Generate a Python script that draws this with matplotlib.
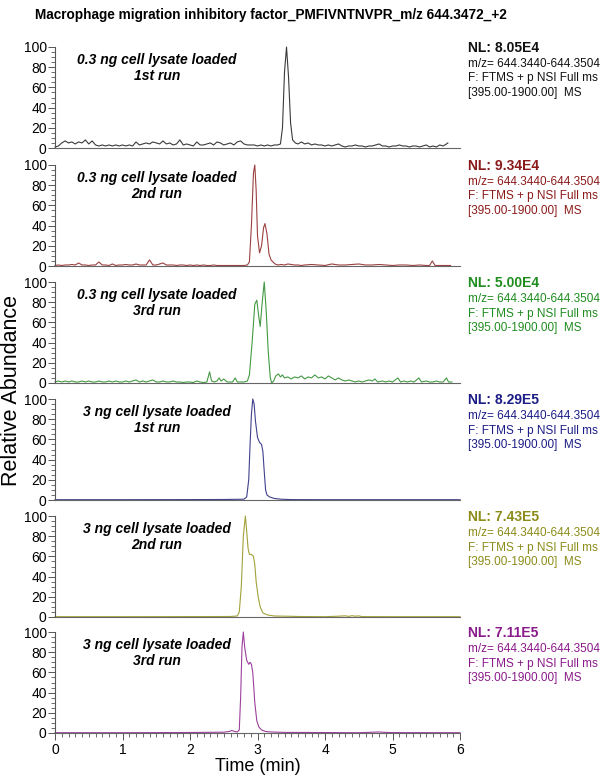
import matplotlib
matplotlib.use("Agg")
import matplotlib.pyplot as plt
from matplotlib.ticker import MultipleLocator

plt.rcParams['font.family'] = ['Liberation Sans', 'DejaVu Sans']

title = "Macrophage migration inhibitory factor_PMFIVNTNVPR_m/z 644.3472_+2"
run_labels = [
    "0.3 ng cell lysate loaded\n1st run",
    "0.3 ng cell lysate loaded\n2nd run",
    "0.3 ng cell lysate loaded\n3rd run",
    "3 ng cell lysate loaded\n1st run",
    "3 ng cell lysate loaded\n2nd run",
    "3 ng cell lysate loaded\n3rd run",
]
nl_values = ["8.05E4", "9.34E4", "5.00E4", "8.29E5", "7.43E5", "7.11E5"]
scan_info = ["m/z= 644.3440-644.3504", "F: FTMS + p NSI Full ms", "[395.00-1900.00]  MS"]

# trace 1: 0.3 ng, 1st run
t1 = [0.00, 0.05, 0.10, 0.15, 0.20, 0.25, 0.30, 0.35, 0.40, 0.45, 0.50, 0.55, 0.60, 0.65, 0.70,
      0.75, 0.80, 0.85, 0.90, 0.95, 1.00, 1.05, 1.10, 1.15, 1.20, 1.25, 1.30, 1.35, 1.40, 1.45,
      1.50, 1.55, 1.60, 1.65, 1.70, 1.75, 1.80, 1.85, 1.90, 1.95, 2.00, 2.05, 2.10, 2.15, 2.20,
      2.25, 2.30, 2.35, 2.40, 2.45, 2.50, 2.55, 2.60, 2.65, 2.70, 2.75, 2.80, 2.85, 2.90, 2.95,
      3.00, 3.05, 3.10, 3.15, 3.20, 3.25, 3.30, 3.34, 3.37, 3.40, 3.43, 3.46, 3.49, 3.52, 3.56,
      3.60, 3.65, 3.70, 3.75, 3.80, 3.85, 3.90, 3.95, 4.00, 4.05, 4.10, 4.15, 4.20, 4.25, 4.30,
      4.35, 4.40, 4.45, 4.50, 4.55, 4.60, 4.65, 4.70, 4.75, 4.80, 4.85, 4.90, 4.95, 5.00, 5.05,
      5.10, 5.15, 5.20, 5.25, 5.30, 5.35, 5.40, 5.45, 5.50, 5.55, 5.60, 5.65, 5.70, 5.75, 5.80, 5.82]
y1 = [1, 2, 5, 7, 5, 6, 4, 6, 5, 8, 4, 7, 3, 2, 3,
      2, 3, 2, 3, 2, 3, 2, 3, 2, 6, 3, 4, 5, 4, 6,
      5, 4, 7, 4, 5, 3, 4, 8, 3, 4, 3, 2, 6, 3, 3,
      4, 5, 3, 6, 5, 3, 4, 5, 3, 6, 7, 4, 3, 3, 3,
      2, 3, 2, 3, 2, 3, 3, 4, 20, 75, 100, 70, 25, 8, 5,
      4, 6, 4, 5, 3, 4, 3, 3, 2, 3, 2, 3, 4, 2, 1,
      2, 2, 3, 2, 2, 1, 2, 2, 3, 4, 2, 2, 1, 2, 2,
      3, 2, 2, 1, 2, 2, 1, 2, 3, 1, 2, 1, 3, 2, 4, 5]

# trace 2: 0.3 ng, 2nd run
t2 = [0.00, 0.05, 0.10, 0.15, 0.20, 0.25, 0.30, 0.35, 0.40, 0.45, 0.50, 0.55, 0.60, 0.65, 0.70,
      0.75, 0.80, 0.85, 0.90, 0.95, 1.00, 1.05, 1.10, 1.15, 1.20, 1.25, 1.30, 1.35, 1.40, 1.45,
      1.50, 1.55, 1.60, 1.65, 1.70, 1.75, 1.80, 1.85, 1.90, 1.95, 2.00, 2.05, 2.10, 2.15, 2.20,
      2.25, 2.30, 2.35, 2.40, 2.45, 2.50, 2.55, 2.60, 2.65, 2.70, 2.75, 2.80, 2.85, 2.88, 2.91,
      2.94, 2.96, 2.98, 3.00, 3.03, 3.06, 3.09, 3.11, 3.14, 3.17, 3.20, 3.23, 3.26, 3.30, 3.35,
      3.40, 3.45, 3.50, 3.55, 3.60, 3.65, 3.70, 3.80, 3.90, 4.00, 4.10, 4.20, 4.30, 4.40, 4.50,
      4.60, 4.70, 4.80, 4.90, 5.00, 5.10, 5.20, 5.30, 5.40, 5.50, 5.55, 5.59, 5.63, 5.70, 5.80, 5.86]
y2 = [0.5, 1, 0.5, 1, 1, 1.5, 1, 3, 1, 1, 0.5, 1, 1, 4, 1,
      1, 0.5, 2, 0.5, 1, 1, 1.5, 1, 1, 2, 1, 1, 1, 6, 1,
      1, 2, 3, 1, 1, 1, 0.5, 1, 1, 0.5, 1, 0.5, 1, 0.5, 1,
      0.5, 0.5, 1, 0.5, 0.5, 0.5, 0.5, 0.5, 0.5, 0.5, 0.5, 0.5, 1, 4, 40,
      92, 100, 75, 30, 13, 20, 38, 42, 32, 12, 6, 4, 2, 1, 1.5,
      1, 2, 1.5, 1, 1, 0.5, 1, 1.5, 1, 0.5, 2, 1, 1, 1.5, 2,
      1, 1, 1.5, 1, 0.5, 1, 1, 0.5, 1, 0.5, 0.5, 5, 0.5, 0.5, 0.5, 0.5]

# trace 3: 0.3 ng, 3rd run
t3 = [0.00, 0.05, 0.10, 0.15, 0.20, 0.25, 0.30, 0.35, 0.40, 0.45, 0.50, 0.55, 0.60, 0.65, 0.70,
      0.75, 0.80, 0.85, 0.90, 0.95, 1.00, 1.05, 1.10, 1.15, 1.20, 1.25, 1.30, 1.35, 1.40, 1.45,
      1.50, 1.55, 1.60, 1.65, 1.70, 1.75, 1.80, 1.85, 1.90, 1.95, 2.00, 2.05, 2.10, 2.15, 2.20,
      2.25, 2.29, 2.32, 2.36, 2.40, 2.43, 2.46, 2.50, 2.55, 2.60, 2.63, 2.67, 2.70, 2.75, 2.80,
      2.85, 2.88, 2.92, 2.96, 2.99, 3.02, 3.04, 3.07, 3.10, 3.13, 3.16, 3.19, 3.21, 3.24, 3.27,
      3.31, 3.34, 3.37, 3.40, 3.45, 3.50, 3.55, 3.60, 3.65, 3.70, 3.75, 3.80, 3.85, 3.90, 3.95,
      4.00, 4.05, 4.10, 4.15, 4.20, 4.25, 4.30, 4.35, 4.40, 4.45, 4.50, 4.55, 4.60, 4.65, 4.70,
      4.74, 4.78, 4.85, 4.90, 4.95, 5.00, 5.04, 5.08, 5.12, 5.17, 5.22, 5.27, 5.32, 5.39, 5.43,
      5.50, 5.55, 5.60, 5.65, 5.70, 5.75, 5.80, 5.83, 5.88]
y3 = [1, 2, 1, 2, 1, 2, 1, 1, 2, 1, 2, 1, 1, 2, 1,
      1, 2, 1, 2, 1, 1, 2, 1, 2, 3, 1, 2, 1, 2, 3,
      1, 1, 2, 1, 1, 2, 1, 1, 0.5, 1, 1, 0.5, 2, 1, 0.5,
      1, 11, 2, 1, 2, 5, 2, 4, 1, 1, 1, 5, 1, 1, 1,
      2, 8, 40, 78, 82, 65, 56, 80, 100, 70, 30, 5, 0, 2, 7,
      9, 6, 8, 5, 6, 4, 6, 5, 7, 4, 6, 5, 8, 5, 6,
      4, 7, 5, 3, 5, 3, 2, 3, 2, 1, 2, 1, 2, 3, 2,
      4, 1, 2, 1, 2, 1, 3, 5, 1, 2, 1, 2, 1, 5, 1,
      2, 1, 1, 2, 1, 1, 5, 1, 1]

# trace 4: 3 ng, 1st run
t4 = [0.0, 1.0, 2.0, 2.5, 2.8, 2.84, 2.87, 2.89, 2.91, 2.93, 2.95, 2.97, 3.00, 3.03, 3.06,
      3.08, 3.10, 3.12, 3.14, 3.18, 3.25, 3.35, 3.50, 4.0, 5.0, 6.0]
y4 = [0.3, 0.3, 0.4, 0.5, 0.8, 3, 20, 55, 85, 100, 95, 78, 62, 57, 55,
      48, 28, 10, 5, 3, 1.5, 0.8, 0.4, 0.3, 0.3, 0.3]

# trace 5: 3 ng, 2nd run
t5 = [0.0, 1.0, 2.0, 2.6, 2.70, 2.73, 2.76, 2.79, 2.82, 2.84, 2.86, 2.88, 2.91, 2.94, 2.96,
      2.98, 3.01, 3.04, 3.08, 3.15, 3.25, 3.50, 3.60, 4.00, 4.20, 4.30, 4.35, 4.40, 4.45, 4.50,
      4.55, 5.0, 6.0]
y5 = [0.3, 0.3, 0.4, 0.5, 1, 5, 30, 80, 100, 85, 68, 62, 62, 60, 52,
      35, 20, 10, 4, 2, 1, 0.7, 0.5, 0.3, 0.8, 1.2, 0.6, 1.3, 0.8, 1.1,
      0.4, 0.3, 0.3]

# trace 6: 3 ng, 3rd run
t6 = [0.0, 1.0, 2.0, 2.5, 2.58, 2.62, 2.66, 2.70, 2.73, 2.75, 2.77, 2.79, 2.81, 2.84, 2.87,
      2.89, 2.91, 2.93, 2.96, 2.99, 3.02, 3.06, 3.12, 3.20, 3.40, 3.80, 4.50, 4.80, 4.90, 5.00, 6.0]
y6 = [0.3, 0.3, 0.5, 0.8, 1.5, 2.5, 1.5, 1, 3, 35, 85, 100, 85, 72, 68,
      70, 68, 60, 30, 12, 6, 3, 1.5, 1, 0.6, 0.5, 0.3, 1, 0.6, 0.4, 0.3]

times = [t1, t2, t3, t4, t5, t6]
traces = [y1, y2, y3, y4, y5, y6]
line_colors = ['#3a3a3a', '#9c4040', '#449a44', '#40408c', '#a2a23a', '#9c409c']
text_colors = ['#111111', '#8b1a1a', '#1f8c1f', '#1c1c86', '#8c8c1a', '#8a1a8a']

W, H = 602, 780
fig = plt.figure(figsize=(W / 100, H / 100), dpi=100)
fig.patch.set_facecolor('white')

base_px = [148, 266, 383, 500, 617, 733]
x0_px, x1_px = 55, 460
panel_h = 101

fig.text(35 / W, 1 - 15 / H, title, fontsize=9.8, fontweight='bold', va='center', ha='left')

for k in range(6):
    ax = fig.add_axes([x0_px / W, 1 - base_px[k] / H, (x1_px - x0_px) / W, panel_h / H])
    ax.plot(times[k], traces[k], color=line_colors[k], lw=0.8, clip_on=False)
    ax.set_xlim(0, 6)
    ax.set_ylim(0, 100)
    for s in ['top', 'right']:
        ax.spines[s].set_visible(False)
    ax.spines['left'].set_color('#555555')
    ax.spines['bottom'].set_color('#666666')
    ax.spines['left'].set_linewidth(0.8)
    ax.spines['bottom'].set_linewidth(0.8)
    ax.yaxis.set_major_locator(MultipleLocator(20))
    ax.yaxis.set_minor_locator(MultipleLocator(5))
    ax.tick_params(axis='y', which='major', length=5, width=0.7, color='#555555',
                   labelsize=10, pad=1)
    ax.tick_params(axis='y', which='minor', length=3, width=0.6, color='#555555')
    if k < 5:
        ax.set_xticks([])
    else:
        ax.xaxis.set_major_locator(MultipleLocator(1))
        ax.xaxis.set_minor_locator(MultipleLocator(0.1))
        ax.tick_params(axis='x', which='major', length=5, width=0.7, color='#555555',
                       labelsize=10, pad=2)
        ax.tick_params(axis='x', which='minor', length=3, width=0.6, color='#555555')
        ax.set_xlabel("Time (min)", fontsize=13, labelpad=1)
    ax.patch.set_alpha(0)

    top = base_px[k] - panel_h
    fig.text(157 / W, 1 - (top + 21) / H, run_labels[k], fontsize=10, fontweight='bold',
             fontstyle='italic', ha='center', va='center', linespacing=1.25)
    fig.text(468 / W, 1 - (top + 1) / H, "NL: " + nl_values[k], fontsize=10,
             fontweight='bold', color=text_colors[k], ha='left', va='center')
    for j, line in enumerate(scan_info):
        fig.text(468 / W, 1 - (top + 17 + 14.5 * j) / H, line, fontsize=8.5,
                 color=text_colors[k], ha='left', va='center')

fig.text(12 / W, 1 - 390 / H, "Relative Abundance", fontsize=15.5, rotation=90,
         ha='center', va='center')

fig.savefig("out.png", dpi=100)
